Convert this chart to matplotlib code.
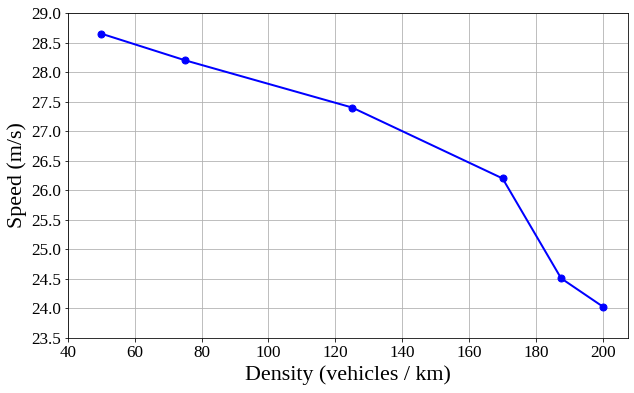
import matplotlib
matplotlib.use('Agg')
import matplotlib.pyplot as plt

# density vs. speed values
density = [50, 75, 125, 170, 187.5, 200]
speed = [28.65, 28.2, 27.4, 26.2, 24.51, 24.03]
x_ticks = [40, 60, 80, 100, 120, 140, 160, 180, 200]

plt.rcParams['font.family'] = ['Liberation Serif', 'DejaVu Serif']

fig = plt.figure(figsize=(634 / 72, 393 / 72), dpi=72)
ax = fig.add_axes([0.107, 0.14, 0.8835, 0.827])
ax.plot(density, speed, color='blue', marker='o', markersize=7, linewidth=2)
ax.set_xlim(40, 207.5)
ax.set_ylim(23.5, 29.0)
ax.set_xticks(x_ticks)
ax.set_yticks([23.5 + 0.5 * i for i in range(12)])
ax.grid(True, color='#b0b0b0', linewidth=0.8)
ax.set_axisbelow(True)
ax.tick_params(labelsize=17)
ax.set_xlabel('Density (vehicles / km)', fontsize=22, labelpad=4)
ax.set_ylabel('Speed (m/s)', fontsize=22, labelpad=4)

fig.savefig('out.png', dpi=72)
